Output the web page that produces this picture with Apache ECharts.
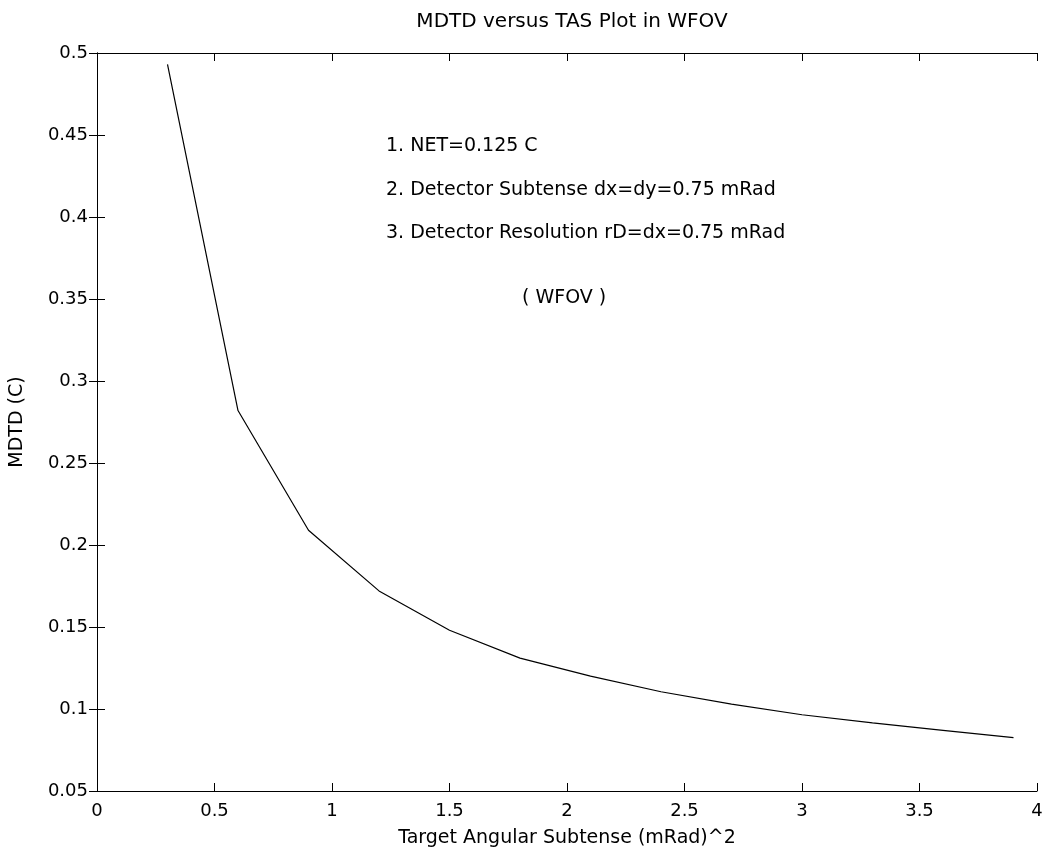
<!DOCTYPE html>
<html>
<head>
<meta charset="utf-8">
<script src="https://cdn.jsdelivr.net/npm/echarts@6/dist/echarts.min.js"></script>
<style>
  html, body { margin: 0; padding: 0; background: #fff; }
  #chart { width: 1052px; height: 857px; }
</style>
</head>
<body>
<div id="chart"></div>
<script>
// target angular subtense (mRad)^2 and the MDTD
const tas = [0.3, 0.6, 0.9, 1.2, 1.5, 1.8, 2.1, 2.4, 2.7, 3.0, 3.3, 3.6, 3.9];
const mdtd = [0.493, 0.282, 0.209, 0.172, 0.148, 0.131, 0.12, 0.1105, 0.103, 0.0965, 0.0915, 0.087, 0.0825];

const notes = [
    '1. NET=0.125 C',
    '2. Detector Subtense dx=dy=0.75 mRad',
    '3. Detector Resolution rD=dx=0.75 mRad'
];
const modeLabel = '( WFOV )';

const FONT = 'DejaVu Sans';

function axisBase(extra) {
    return Object.assign({
        axisLine: { show: true, lineStyle: { color: '#000', width: 1 } },
        axisTick: { show: true, inside: true, length: 8, lineStyle: { color: '#000' } },
        splitLine: { show: false },
        axisLabel: { color: '#000', fontFamily: FONT, fontSize: 18 }
    }, extra);
}

const chart = echarts.init(document.getElementById('chart'));

const option = {
    backgroundColor: '#fff',
    animation: false,
    title: {
        text: 'MDTD versus TAS Plot in WFOV',
        left: 567, top: 7, textAlign: 'center',
        textStyle: { color: '#000', fontFamily: FONT, fontSize: 20, fontWeight: 'normal' }
    },
    grid: { left: 97, right: 15, top: 53, bottom: 66 },
    xAxis: [
        axisBase({
            type: 'value', min: 0, max: 4, interval: 0.5, position: 'bottom',
            name: 'Target Angular Subtense (mRad)^2', nameLocation: 'middle', nameGap: 38,
            nameTextStyle: { color: '#000', fontFamily: FONT, fontSize: 19 },
            axisLabel: { color: '#000', fontFamily: FONT, fontSize: 18, margin: 11 }
        }),
        axisBase({
            type: 'value', min: 0, max: 4, interval: 0.5, position: 'top',
            axisLabel: { show: false }
        })
    ],
    yAxis: [
        axisBase({
            type: 'value', min: 0.05, max: 0.5, interval: 0.05, position: 'left',
            name: 'MDTD (C)', nameLocation: 'middle', nameGap: 70,
            nameTextStyle: { color: '#000', fontFamily: FONT, fontSize: 19 },
            axisLabel: { color: '#000', fontFamily: FONT, fontSize: 18, margin: 9 }
        }),
        axisBase({
            type: 'value', min: 0.05, max: 0.5, interval: 0.05, position: 'right',
            axisLabel: { show: false }
        })
    ],
    graphic: notes.map((t, i) => ({
        type: 'text', left: 386, top: 137 + i * 43.5,
        style: { text: t, fill: '#000', font: '19px "DejaVu Sans"' }
    })).concat([{
        type: 'text', left: 522, top: 289,
        style: { text: modeLabel, fill: '#000', font: '19px "DejaVu Sans"' }
    }]),
    series: [{
        type: 'line',
        xAxisIndex: 0, yAxisIndex: 0,
        data: tas.map((x, i) => [x, mdtd[i]]),
        showSymbol: false,
        lineStyle: { color: '#000', width: 1.2 }
    }]
};

chart.setOption(option);
</script>
</body>
</html>
